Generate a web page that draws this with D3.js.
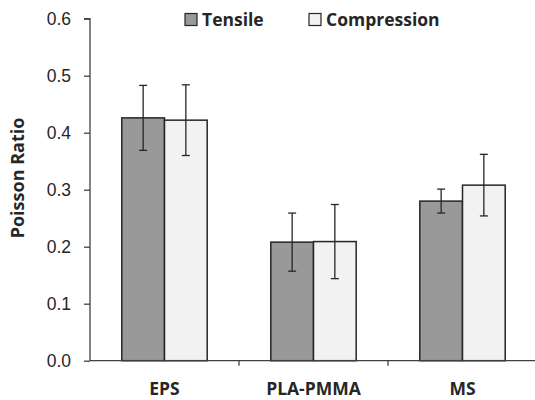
<!DOCTYPE html>
<html>
<head>
<meta charset="utf-8">
<script src="https://cdn.jsdelivr.net/npm/d3@7"></script>
<style>
  html, body { margin: 0; padding: 0; background: #fff; }
  svg { display: block; font-family: "Open Sans", "DejaVu Sans", sans-serif; }
</style>
</head>
<body>
<svg id="chart" width="535" height="400"></svg>
<script>
const categories = ["EPS", "PLA-PMMA", "MS"];
const seriesNames = ["Tensile", "Compression"];
const tensileValues = [0.426, 0.208, 0.280];
const tensileErrors = [0.057, 0.051, 0.021];
const compressionValues = [0.422, 0.209, 0.308];
const compressionErrors = [0.062, 0.065, 0.054];
const yTicks = [0, 0.1, 0.2, 0.3, 0.4, 0.5, 0.6];

const series = [
  { name: seriesNames[0], values: tensileValues, errors: tensileErrors, fill: "#999999" },
  { name: seriesNames[1], values: compressionValues, errors: compressionErrors, fill: "#f2f2f2" }
];

const svg = d3.select("#chart");
const mLeft = 90, mRight = 537, mTop = 18.7, mBottom = 360.7;

const y = d3.scaleLinear().domain([0, 0.6]).range([mBottom, mTop]);
const x0 = d3.scaleBand().domain(categories).range([mLeft, mRight]).padding(0);
const x1 = d3.scaleBand().domain(seriesNames).range([0, x0.bandwidth()]).paddingInner(0).paddingOuter(0.745);

// Bars
categories.forEach((c, i) => {
  series.forEach(s => {
    const bx = x0(c) + x1(s.name);
    const bw = x1.bandwidth();
    svg.append("rect")
      .attr("x", bx).attr("y", y(s.values[i]))
      .attr("width", bw).attr("height", y(0) - y(s.values[i]))
      .attr("fill", s.fill).attr("stroke", "#262626").attr("stroke-width", 1.5);
  });
});

// Error bars
categories.forEach((c, i) => {
  series.forEach(s => {
    const cx = x0(c) + x1(s.name) + x1.bandwidth() / 2;
    const hi = y(s.values[i] + s.errors[i]);
    const lo = y(s.values[i] - s.errors[i]);
    const g = svg.append("g").attr("stroke", "#262626").attr("stroke-width", 1.3);
    g.append("line").attr("x1", cx).attr("x2", cx).attr("y1", hi).attr("y2", lo);
    g.append("line").attr("x1", cx - 4).attr("x2", cx + 4).attr("y1", hi).attr("y2", hi);
    g.append("line").attr("x1", cx - 4).attr("x2", cx + 4).attr("y1", lo).attr("y2", lo);
  });
});

// Y axis
const yAxis = d3.axisLeft(y).tickValues(yTicks).tickFormat(d3.format(".1f")).tickSize(6).tickPadding(13);
const yg = svg.append("g").attr("transform", `translate(${mLeft},0)`).call(yAxis);
yg.select(".domain").attr("stroke", "#404040").attr("stroke-width", 1.3).attr("d", `M-6,${mTop}H0V${mBottom}`);
yg.selectAll(".tick line").attr("stroke", "#404040").attr("stroke-width", 1.3);
yg.selectAll(".tick text").attr("fill", "#262626").style("font-size", "17.5px").attr("dy", "0.34em");

// X axis
const xg = svg.append("g").attr("transform", `translate(0,${mBottom})`);
xg.append("line").attr("x1", mLeft).attr("x2", mRight).attr("y1", 0).attr("y2", 0)
  .attr("stroke", "#404040").attr("stroke-width", 1.3);
categories.slice(1).forEach(c => {
  xg.append("line").attr("x1", x0(c)).attr("x2", x0(c)).attr("y1", 0).attr("y2", 5)
    .attr("stroke", "#404040").attr("stroke-width", 1.3);
});
categories.forEach(c => {
  xg.append("text").attr("x", x0(c) + x0.bandwidth() / 2).attr("y", 34)
    .attr("text-anchor", "middle").attr("fill", "#262626")
    .style("font-size", "17.5px").style("font-weight", "bold").text(c);
});

// Y title
svg.append("text").attr("transform", `translate(24,178) rotate(-90)`)
  .attr("text-anchor", "middle").attr("fill", "#262626")
  .style("font-size", "18px").style("font-weight", "bold").text("Poisson Ratio");

// Legend
const legendX = [185, 309];
series.forEach((s, i) => {
  svg.append("rect").attr("x", legendX[i]).attr("y", 13.5).attr("width", 12).attr("height", 12)
    .attr("fill", s.fill).attr("stroke", "#262626").attr("stroke-width", 1.2);
  svg.append("text").attr("x", legendX[i] + 17).attr("y", 26)
    .attr("fill", "#262626").style("font-size", "17.5px").style("font-weight", "bold").text(s.name);
});
</script>
</body>
</html>
